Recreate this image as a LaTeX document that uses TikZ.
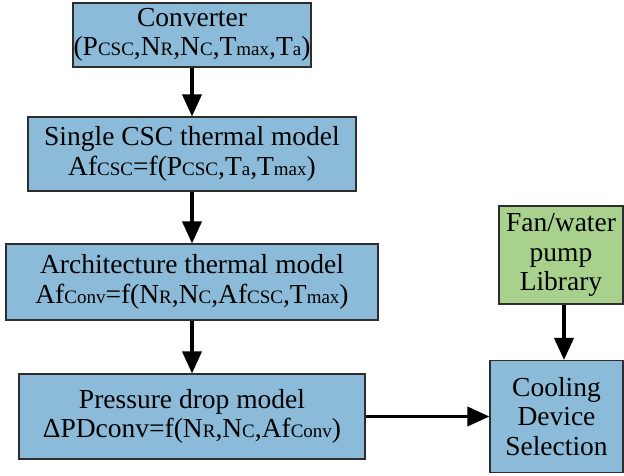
\documentclass[tikz,border=0pt]{standalone}
\usepackage{fontspec}
\setmainfont{Liberation Serif}
\usetikzlibrary{arrows.meta}

\definecolor{boxblue}{RGB}{139,187,216}
\definecolor{boxgreen}{RGB}{169,209,142}
\definecolor{boxline}{RGB}{45,45,45}

% small lettering set on the baseline
\newcommand{\subtxt}[1]{{\fontsize{19}{19}\selectfont #1}}

\begin{document}
\begin{tikzpicture}[
    x=1pt, y=-1pt,
    every node/.style={font=\fontsize{27.5}{29.5}\selectfont},
    block/.style={draw=boxline,line width=1.1pt,fill=boxblue,align=center,inner sep=0pt},
    libblock/.style={block,fill=boxgreen},
    flowarrow/.style={line width=3.6pt,-{Triangle[length=22pt,width=19pt]}}
    ]

    \useasboundingbox (0,0) rectangle (624,475);

    \node[block, minimum width=238pt, minimum height=64pt] (conv) at (192,35)
        {Converter\\(P\subtxt{CSC},N\subtxt{R},N\subtxt{C},T\subtxt{max},T\subtxt{a})};
    \node[block, minimum width=328pt, minimum height=74pt] (single) at (192,154)
        {Single CSC thermal model\\Af\subtxt{CSC}=f(P\subtxt{CSC},T\subtxt{a},T\subtxt{max})};
    \node[block, minimum width=372pt, minimum height=76pt] (arch) at (192,282)
        {Architecture thermal model\\Af\subtxt{Conv}=f(N\subtxt{R},N\subtxt{C},Af\subtxt{CSC},T\subtxt{max})};
    \node[block, minimum width=346pt, minimum height=85pt] (press) at (192,416.5)
        {Pressure drop model\\ΔPDconv=f(N\subtxt{R},N\subtxt{C},Af\subtxt{Conv})};
    \node[libblock, minimum width=124pt, minimum height=98pt] (fan) at (561,255)
        {Fan/water\\pump\\Library};
    \node[block, minimum width=133pt, minimum height=112pt] (cool) at (556.5,416.5)
        {Cooling\\Device\\Selection};
    \coordinate (pumpx) at (564,0);

    \path (conv) edge[flowarrow] (single)
    (single) edge[flowarrow] (arch)
    (arch) edge[flowarrow] (press)
    (press) edge[flowarrow] (cool)
    (fan.south -| pumpx) edge[flowarrow] (cool.north -| pumpx)
    ;

\end{tikzpicture}
\end{document}
